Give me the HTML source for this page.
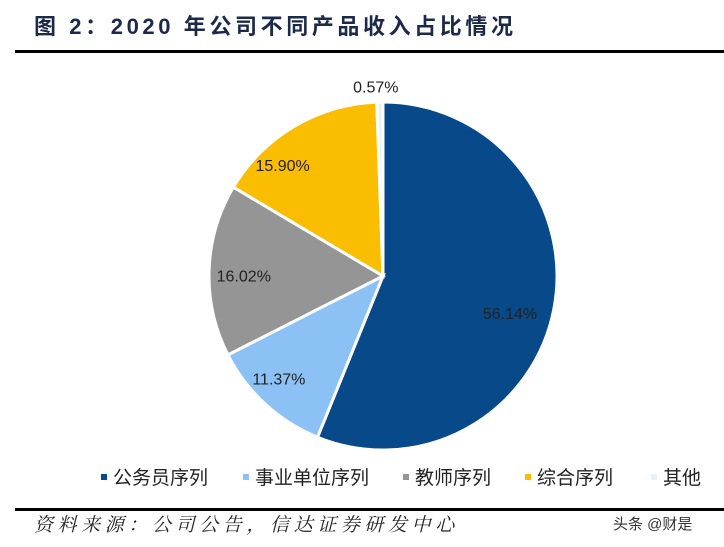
<!DOCTYPE html>
<html><head><meta charset="utf-8"><style>
body{margin:0;background:#fff;width:724px;height:547px;overflow:hidden;position:relative;font-family:"Liberation Sans","Noto Sans CJK SC",sans-serif}
.t{position:absolute;left:34px;top:9px;font-size:22px;font-weight:bold;color:#1b2a4a;letter-spacing:3.6px;white-space:nowrap}
.line{position:absolute;left:15px;right:0;height:3px;background:#000}
.leg{position:absolute;top:463px;font-size:19px;color:#222;display:flex;align-items:center}
.sq{width:6px;height:6px;margin-right:6px}
.src{position:absolute;left:34px;top:510px;font-size:19px;font-style:italic;color:#222;letter-spacing:4.6px;white-space:nowrap;font-family:"Liberation Serif","Noto Serif CJK SC",serif}
.wm{position:absolute;left:613px;top:513px;font-size:15px;color:#333}
</style></head><body>
<div class="t">图 2：2020 年公司不同产品收入占比情况</div>
<div class="line" style="top:50px"></div>
<svg id="pie" width="724" height="547" style="position:absolute;left:0;top:0"></svg>
<div class="leg" style="left:101px"><div class="sq" style="background:#074989"></div>公务员序列</div>
<div class="leg" style="left:243px"><div class="sq" style="background:#8cc1f5"></div>事业单位序列</div>
<div class="leg" style="left:403px"><div class="sq" style="background:#959595"></div>教师序列</div>
<div class="leg" style="left:525px"><div class="sq" style="background:#fbbd00"></div>综合序列</div>
<div class="leg" style="left:651px"><div class="sq" style="background:#e8f0fa"></div>其他</div>
<div class="line" style="top:508px"></div>
<div class="src">资料来源：公司公告，信达证券研发中心</div>
<div class="wm">头条 @财是</div>
<script>
const categories=["公务员序列","事业单位序列","教师序列","综合序列","其他"];
const values=[56.14,11.37,16.02,15.90,0.57];
const labels=["56.14%","11.37%","16.02%","15.90%","0.57%"];
const colors=["#074989","#8cc1f5","#959595","#fbbd00","#e8f0fa"];
// label placement (style): radius factor and angular shift per slice
const labelRadius=[0.76,0.84,0.8,0.86,1.09];
const labelShift=[0.09,0.05,-0.03,-0.2,-0.02];
const svg=document.getElementById('pie');
const NS="http://www.w3.org/2000/svg";
const cx=383,cy=276,r=174;
const total=values.reduce((a,b)=>a+b,0);
let a0=0;
values.forEach((v,i)=>{
  const a1=a0+v/total*Math.PI*2;
  const p=a=>[cx+r*Math.sin(a),cy-r*Math.cos(a)];
  const [x0,y0]=p(a0),[x1,y1]=p(a1);
  const path=document.createElementNS(NS,'path');
  path.setAttribute('d',`M${cx},${cy}L${x0},${y0}A${r},${r} 0 ${a1-a0>Math.PI?1:0} 1 ${x1},${y1}Z`);
  path.setAttribute('fill',colors[i]);
  path.setAttribute('stroke','#fff');
  path.setAttribute('stroke-width','3');
  
  
  svg.appendChild(path);
  const am=(a0+a1)/2+labelShift[i];
  const lr=r*labelRadius[i];
  const t=document.createElementNS(NS,'text');
  t.setAttribute('x',cx+lr*Math.sin(am));
  t.setAttribute('y',cy-lr*Math.cos(am)+6);
  t.setAttribute('text-anchor','middle');
  t.setAttribute('font-size','16');
  t.setAttribute('fill','#222');
  t.textContent=labels[i];
  
  
  svg.appendChild(t);
  a0=a1;
});
</script>
</body></html>
